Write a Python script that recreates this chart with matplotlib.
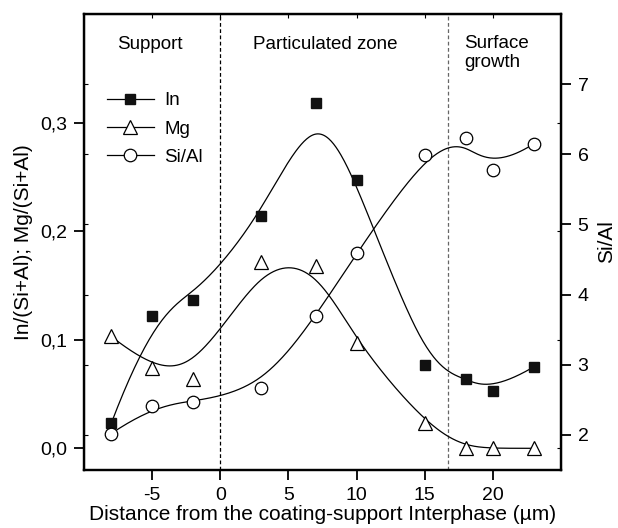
import numpy as np
import matplotlib
matplotlib.use("Agg")
import matplotlib.pyplot as plt
from matplotlib.lines import Line2D

plt.rcParams['font.family'] = ['Liberation Sans', 'DejaVu Sans']
plt.rcParams['axes.unicode_minus'] = False

# distance from the coating-support interphase (um)
distance = [-8, -5, -2, 3, 7, 10, 15, 18, 20, 23]
in_ratio = [0.023, 0.122, 0.137, 0.214, 0.318, 0.247, 0.077, 0.064, 0.053, 0.075]
mg_ratio = [0.103, 0.074, 0.064, 0.172, 0.168, 0.097, 0.023, 0.0, 0.0, 0.0]
si_al = [2.02, 2.41, 2.47, 2.67, 3.69, 4.59, 5.99, 6.24, 5.78, 6.15]

zone_borders = [0, 16.7]
x_ticks = [-5, 0, 5, 10, 15, 20]
left_ticks = [0.0, 0.1, 0.2, 0.3]
left_ticklabels = ['0,0', '0,1', '0,2', '0,3']
right_ticks = [2, 3, 4, 5, 6, 7]


def bspline(xs, ys, n=400, k=3):
    # clamped uniform B-spline, data points used as control points
    P = np.column_stack([xs, ys]).astype(float)
    m = len(P)
    knots = np.concatenate([np.zeros(k), np.arange(m - k + 1), np.full(k, m - k)]).astype(float)
    t = np.linspace(0, m - k, n)
    N = np.zeros((n, len(knots) - 1))
    for i in range(len(knots) - 1):
        N[:, i] = (knots[i] <= t) & (t < knots[i + 1])
    N[-1, m - 1] = 1.0
    for d in range(1, k + 1):
        Nn = np.zeros((n, len(knots) - 1 - d))
        for i in range(len(knots) - 1 - d):
            a = knots[i + d] - knots[i]
            b = knots[i + d + 1] - knots[i + 1]
            left = (t - knots[i]) / a * N[:, i] if a > 0 else 0
            right = (knots[i + d + 1] - t) / b * N[:, i + 1] if b > 0 else 0
            Nn[:, i] = left + right
        N = Nn
    C = N[:, :m] @ P
    return C[:, 0], C[:, 1]


fig = plt.figure(figsize=(6.18, 5.28), dpi=100)
ax = fig.add_axes([0.1359, 0.1098, 0.7719, 0.8636])
ax2 = ax.twinx()

lw_curve = 0.9
for x in zone_borders:
    ax.axvline(x, color='black' if x == 0 else '#666666', lw=0.9, ls=(0, (3, 2)), zorder=1)

bx, by = bspline(distance, in_ratio)
ax.plot(bx, by, color='black', lw=lw_curve, zorder=2)
bx, by = bspline(distance, mg_ratio)
ax.plot(bx, by, color='black', lw=lw_curve, zorder=2)
bx, by = bspline(distance, si_al)
ax2.plot(bx, by, color='black', lw=lw_curve, zorder=2)

ax.plot(distance, in_ratio, ls='none', marker='s', ms=7.7, mfc='#111111', mec='#111111', zorder=3)
ax.plot(distance, mg_ratio, ls='none', marker='^', ms=9.5, mfc='white', mec='black', mew=0.9, zorder=3)
ax2.plot(distance, si_al, ls='none', marker='o', ms=9, mfc='white', mec='black', mew=0.9, zorder=3)

ax.set_xlim(-10, 25)
ax.set_ylim(-0.02, 0.4)
ax2.set_ylim(1.5, 8.0)

ax.set_xticks(x_ticks)
ax.set_yticks(left_ticks)
ax.set_yticklabels(left_ticklabels)
ax2.set_yticks(right_ticks)

for a in (ax, ax2):
    for s in a.spines.values():
        s.set_linewidth(1.6)
ax.tick_params(axis='both', direction='out', length=7, width=1.3, labelsize=14, pad=5)
ax2.tick_params(axis='y', direction='out', length=7, width=1.3, labelsize=14, pad=5)

# small inward mirror ticks
sx = ax.secondary_xaxis('top')
sx.set_xticks(x_ticks)
sx.tick_params(direction='in', length=3, width=0.8, labeltop=False)
sl = ax2.secondary_yaxis('left')
sl.set_yticks(right_ticks)
sl.tick_params(direction='in', length=3, width=0.8, labelleft=False)
sr = ax.secondary_yaxis('right')
sr.set_yticks(left_ticks)
sr.tick_params(direction='in', length=3, width=0.8, labelright=False)

ax.set_xlabel('Distance from the coating-support Interphase (µm)', fontsize=15, labelpad=1)
ax.set_ylabel('In/(Si+Al); Mg/(Si+Al)', fontsize=15, labelpad=5)
ax2.set_ylabel('Si/Al', fontsize=15, labelpad=6)

ax.text(-5.2, 0.372, 'Support', fontsize=13.5, ha='center', va='center')
ax.text(7.7, 0.372, 'Particulated zone', fontsize=13.5, ha='center', va='center')
ax.text(17.9, 0.3643, 'Surface\ngrowth', fontsize=13.5, ha='left', va='center', linespacing=1.2)

handles = [
    Line2D([], [], color='black', lw=0.9, marker='s', ms=7.7, mfc='#111111', mec='#111111'),
    Line2D([], [], color='black', lw=0.9, marker='^', ms=9.5, mfc='white', mec='black', mew=0.9),
    Line2D([], [], color='black', lw=0.9, marker='o', ms=9, mfc='white', mec='black', mew=0.9),
]
ax.legend(handles, ['In', 'Mg', 'Si/Al'], loc='upper left', bbox_to_anchor=(0.048, 0.829),
          frameon=False, fontsize=13.5, handlelength=2.5, handletextpad=0.55,
          labelspacing=0.6, borderpad=0, borderaxespad=0)

fig.savefig('out.png', dpi=100)
